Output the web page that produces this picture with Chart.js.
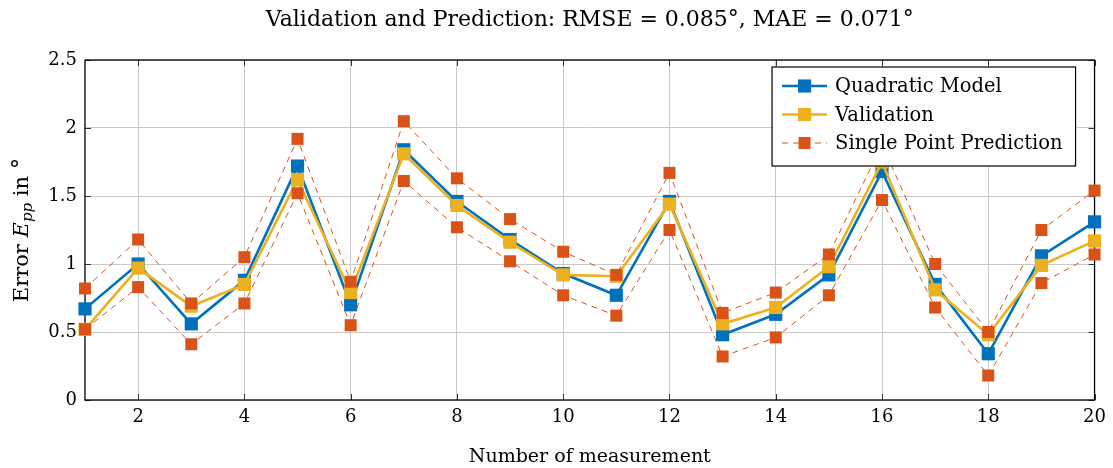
<!DOCTYPE html>
<html>
<head>
<meta charset="utf-8">
<script src="https://cdn.jsdelivr.net/npm/chart.js@4.4.0/dist/chart.umd.min.js"></script>
<style>
    html, body { margin: 0; padding: 0; background: #fff; }
</style>
</head>
<body>
<canvas id="errorChart" width="1113" height="468"></canvas>
<script>
const measurements = [1, 2, 3, 4, 5, 6, 7, 8, 9, 10, 11, 12, 13, 14, 15, 16, 17, 18, 19, 20];
const quadraticModel = [0.67, 1.00, 0.56, 0.88, 1.72, 0.70, 1.84, 1.46, 1.18, 0.93, 0.77, 1.46, 0.48, 0.63, 0.92, 1.68, 0.85, 0.34, 1.06, 1.31];
const validation = [0.52, 0.97, 0.69, 0.85, 1.62, 0.79, 1.81, 1.43, 1.16, 0.92, 0.91, 1.44, 0.56, 0.68, 0.98, 1.75, 0.81, 0.48, 0.99, 1.17];
const predictionUpper = [0.82, 1.18, 0.71, 1.05, 1.92, 0.87, 2.05, 1.63, 1.33, 1.09, 0.92, 1.67, 0.64, 0.79, 1.07, 1.88, 1.00, 0.50, 1.25, 1.54];
const predictionLower = [0.52, 0.83, 0.41, 0.71, 1.52, 0.55, 1.61, 1.27, 1.02, 0.77, 0.62, 1.25, 0.32, 0.46, 0.77, 1.47, 0.68, 0.18, 0.86, 1.07];
const xTicks = [2, 4, 6, 8, 10, 12, 14, 16, 18, 20];
const yTicks = [0, 0.5, 1, 1.5, 2, 2.5];

const serif = "'DejaVu Serif', 'Liberation Serif', serif";
const blue = '#0072BD';
const yellow = '#EDB120';
const orange = '#D95319';

function toPoints(values) {
    return measurements.map((m, i) => ({x: m, y: values[i]}));
}

function series(label, values, color, dashed, order) {
    return {
        label: label,
        data: toPoints(values),
        borderColor: color,
        backgroundColor: color,
        borderWidth: dashed ? 1 : 2.6,
        borderDash: dashed ? [6, 5] : [],
        pointStyle: 'rect',
        pointRadius: dashed ? 8.5 : 9.3,
        pointBorderWidth: 0,
        pointBackgroundColor: color,
        tension: 0,
        clip: false,
        order: order,
        showInLegend: label !== ''
    };
}

// box, inward ticks and the rotated y label (pgfplots look)
const framePlugin = {
    id: 'frame',
    beforeDatasetsDraw(chart) {
        const {ctx, chartArea: a, scales} = chart;
        ctx.save();
        ctx.strokeStyle = '#333';
        ctx.lineWidth = 1;
        ctx.beginPath();
        xTicks.forEach(v => {
            const px = Math.round(scales.x.getPixelForValue(v)) + 0.5;
            ctx.moveTo(px, a.bottom); ctx.lineTo(px, a.bottom - 6);
            ctx.moveTo(px, a.top); ctx.lineTo(px, a.top + 6);
        });
        yTicks.forEach(v => {
            const py = Math.round(scales.y.getPixelForValue(v)) + 0.5;
            ctx.moveTo(a.left, py); ctx.lineTo(a.left + 6, py);
            ctx.moveTo(a.right, py); ctx.lineTo(a.right - 6, py);
        });
        ctx.stroke();
        ctx.strokeStyle = '#000';
        ctx.lineWidth = 1.3;
        ctx.strokeRect(a.left, a.top, a.right - a.left, a.bottom - a.top);
        ctx.restore();
    },
    afterDraw(chart) {
        const {ctx, chartArea: a} = chart;
        const size = 21;
        const parts = [
            {t: 'Error ', f: size + 'px ' + serif, dy: 0},
            {t: 'E', f: 'italic ' + size + 'px ' + serif, dy: 0},
            {t: 'pp', f: 'italic ' + Math.round(size * 0.7) + 'px ' + serif, dy: 5},
            {t: ' in ', f: size + 'px ' + serif, dy: 0},
            {t: '\u00B0', f: Math.round(size * 1.1) + 'px ' + serif, dy: -1}
        ];
        ctx.save();
        let total = 0;
        parts.forEach(p => { ctx.font = p.f; p.w = ctx.measureText(p.t).width; total += p.w; });
        ctx.translate(23, (a.top + a.bottom) / 2);
        ctx.rotate(-Math.PI / 2);
        ctx.fillStyle = '#000';
        ctx.textBaseline = 'middle';
        let x = -total / 2;
        parts.forEach(p => {
            ctx.font = p.f;
            ctx.fillText(p.t, x, p.dy);
            x += p.w;
        });
        ctx.restore();
    }
};

const legendPlugin = {
    id: 'boxLegend',
    afterDraw(chart) {
        const {ctx, chartArea: a} = chart;
        const items = chart.data.datasets.filter(d => d.showInLegend);
        ctx.save();
        ctx.font = '19.5px ' + serif;
        let maxW = 0;
        items.forEach(d => { maxW = Math.max(maxW, ctx.measureText(d.label).width); });
        const w = 63 + maxW + 13;
        const h = 99;
        const left = a.right - 19 - w;
        const top = a.top + 7;
        ctx.fillStyle = '#fff';
        ctx.fillRect(left, top, w, h);
        ctx.strokeStyle = '#000';
        ctx.lineWidth = 1.2;
        ctx.strokeRect(left, top, w, h);
        items.forEach((d, i) => {
            const y = top + 19 + i * 28.5;
            ctx.strokeStyle = d.borderColor;
            ctx.lineWidth = d.borderWidth;
            ctx.setLineDash(d.borderDash);
            ctx.beginPath();
            ctx.moveTo(left + 10, y);
            ctx.lineTo(left + 55, y);
            ctx.stroke();
            ctx.setLineDash([]);
            const s = d.pointRadius * Math.SQRT1_2;
            ctx.fillStyle = d.borderColor;
            ctx.fillRect(left + 32.5 - s, y - s, 2 * s, 2 * s);
            ctx.fillStyle = '#000';
            ctx.textBaseline = 'middle';
            ctx.fillText(d.label, left + 63, y + 1);
        });
        ctx.restore();
    }
};

new Chart(document.getElementById('errorChart'), {
    type: 'line',
    data: {
        datasets: [
            series('Quadratic Model', quadraticModel, blue, false, 4),
            series('Validation', validation, yellow, false, 3),
            series('Single Point Prediction', predictionUpper, orange, true, 2),
            series('', predictionLower, orange, true, 1)
        ]
    },
    options: {
        responsive: false,
        animation: false,
        devicePixelRatio: 1,
        layout: {
            padding: {left: 0, right: 16, top: 0, bottom: 0}
        },
        plugins: {
            legend: {display: false},
            tooltip: {enabled: false},
            title: {
                display: true,
                fullSize: false,
                text: 'Validation and Prediction: RMSE = 0.085\u00B0, MAE = 0.071\u00B0',
                color: '#000',
                font: {family: serif, size: 22, weight: 'normal'},
                padding: {top: 7, bottom: 26.6}
            }
        },
        scales: {
            x: {
                type: 'linear',
                min: 1,
                max: 20,
                afterBuildTicks: scale => { scale.ticks = xTicks.map(v => ({value: v})); },
                afterFit: scale => { scale.height = 68; },
                ticks: {
                    color: '#000',
                    padding: 7,
                    maxRotation: 0,
                    autoSkip: false,
                    font: {family: serif, size: 18}
                },
                grid: {color: '#c9c9c9', lineWidth: 1, drawTicks: false},
                border: {display: false},
                title: {
                    display: true,
                    text: 'Number of measurement',
                    color: '#000',
                    font: {family: serif, size: 19},
                    padding: {top: 0, bottom: 0}
                }
            },
            y: {
                min: 0,
                max: 2.5,
                afterBuildTicks: scale => { scale.ticks = yTicks.map(v => ({value: v})); },
                afterFit: scale => { scale.width = 85; },
                ticks: {
                    color: '#000',
                    padding: 8,
                    font: {family: serif, size: 18},
                    callback: v => String(v)
                },
                grid: {color: '#c9c9c9', lineWidth: 1, drawTicks: false},
                border: {display: false}
            }
        }
    },
    plugins: [framePlugin, legendPlugin]
});
</script>
</body>
</html>
